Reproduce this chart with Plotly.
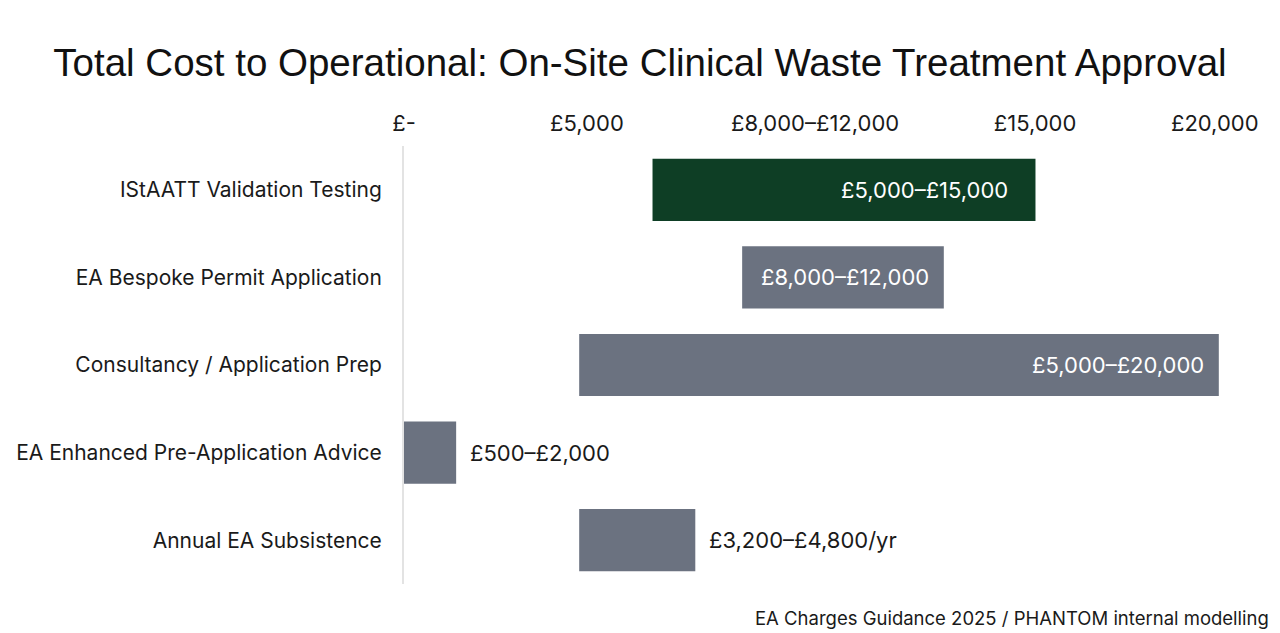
import plotly.graph_objects as go

categories = [
    "IStAATT Validation Testing",
    "EA Bespoke Permit Application",
    "Consultancy / Application Prep",
    "EA Enhanced Pre-Application Advice",
    "Annual EA Subsistence",
]
range_start = [6100, 8300, 4300, 0, 4300]
range_end = [15500, 13250, 20000, 1280, 7150]
bar_labels = ["£5,000–£15,000", "£8,000–£12,000", "£5,000–£20,000", "£500–£2,000", "£3,200–£4,800/yr"]
label_place = ["inside", "center", "inside", "outside", "outside"]
bar_colors = ["#0e3e25", "#6b7280", "#6b7280", "#6b7280", "#6b7280"]

tick_vals = [0, 4490, 10090, 15490, 19900]
tick_text = ["£-", "£5,000", "£8,000–£12,000", "£15,000", "£20,000"]

title_text = "Total Cost to Operational: On-Site Clinical Waste Treatment Approval"
source_text = "EA Charges Guidance 2025 / PHANTOM internal modelling"

lengths = [e - s for s, e in zip(range_start, range_end)]
inside_pad = {"IStAATT Validation Testing": -25, "Consultancy / Application Prep": -13}

fig = go.Figure()
fig.add_trace(go.Bar(
    y=categories,
    x=lengths,
    base=range_start,
    orientation="h",
    marker=dict(color=bar_colors, line=dict(width=0)),
    width=0.71,
    hoverinfo="skip",
))

annotations = []
for cat, s, e, lab, place in zip(categories, range_start, range_end, bar_labels, label_place):
    if place == "inside":
        annotations.append(dict(x=e, y=cat, xref="x", yref="y", text=lab, showarrow=False,
                                xanchor="right", xshift=inside_pad.get(cat, -15),
                                font=dict(family="Inter", size=22, color="white")))
    elif place == "center":
        annotations.append(dict(x=(s + e) / 2, y=cat, xref="x", yref="y", text=lab, showarrow=False,
                                xanchor="center", xshift=2, font=dict(family="Inter", size=22, color="white")))
    else:
        annotations.append(dict(x=e, y=cat, xref="x", yref="y", text=lab, showarrow=False,
                                xanchor="left", xshift=12, font=dict(family="Inter", size=22, color="#1a1a1a")))

annotations.append(dict(x=1.037, y=-0.078, xref="paper", yref="paper", text=source_text, showarrow=False,
                        xanchor="right", yanchor="middle", font=dict(family="Inter", size=18.5, color="#1a1a1a")))

fig.update_layout(
    width=1280,
    height=633,
    paper_bgcolor="#ffffff",
    plot_bgcolor="#ffffff",
    margin=dict(l=404, r=40, t=146, b=49),
    showlegend=False,
    title=dict(text=title_text, x=0.5, xref="container", xanchor="center", y=0.902, yanchor="middle",
               font=dict(family="Liberation Sans", size=38.5, color="#111111")),
    xaxis=dict(
        side="top",
        range=[0, 20520],
        tickmode="array",
        tickvals=tick_vals,
        ticktext=tick_text,
        showgrid=False,
        zeroline=False,
        showline=False,
        ticks="",
        ticklabelstandoff=10,
        tickfont=dict(family="Inter", size=22, color="#1a1a1a"),
        fixedrange=True,
    ),
    yaxis=dict(
        autorange="reversed",
        showgrid=False,
        zeroline=False,
        showline=True,
        linecolor="#e3e3e3",
        linewidth=2,
        ticks="",
        ticklabelstandoff=16,
        tickfont=dict(family="Inter", size=21, color="#1a1a1a"),
        fixedrange=True,
    ),
    annotations=annotations,
)

fig.write_html(
    "out.html",
    config={"displayModeBar": False},
    post_script="document.body.style.margin='0';document.body.style.overflow='hidden';",
)
